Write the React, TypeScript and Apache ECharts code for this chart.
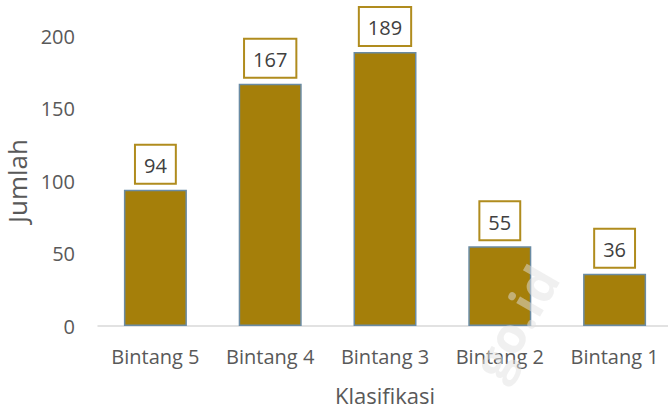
import React, { useEffect, useRef } from "react";
import * as echarts from "echarts";

const categories = ["Bintang 5", "Bintang 4", "Bintang 3", "Bintang 2", "Bintang 1"];
const values = [94, 167, 189, 55, 36];
const yTicks = { min: 0, max: 200, interval: 50 };

const FONT = "Open Sans";

export default function App() {
  const ref = useRef<HTMLDivElement>(null);
  useEffect(() => {
    const chart = echarts.init(ref.current!, null, { renderer: "svg" });
    chart.setOption({
      animation: false,
      textStyle: { fontFamily: FONT },
      grid: { left: 98, top: 36, width: 574, bottom: 85, outerBoundsMode: "none", containLabel: false },
      xAxis: {
        type: "category",
        data: categories,
        name: "Klasifikasi",
        nameLocation: "middle",
        nameGap: 58,
        nameTextStyle: { fontSize: 22, color: "#595959", fontFamily: FONT },
        axisLine: { lineStyle: { color: "#D9D9D9", width: 1.5 } },
        axisTick: { show: false },
        axisLabel: { fontSize: 20, color: "#595959", margin: 20, interval: 0, hideOverlap: false, fontFamily: FONT },
      },
      yAxis: {
        type: "value",
        min: yTicks.min,
        max: yTicks.max,
        interval: yTicks.interval,
        name: "Jumlah",
        nameLocation: "middle",
        nameGap: 66,
        nameTextStyle: { fontSize: 26, lineHeight: 26, color: "#595959", fontFamily: FONT },
        axisLine: { show: false },
        axisTick: { show: false },
        splitLine: { show: false },
        axisLabel: { fontSize: 20, color: "#595959", margin: 23, fontFamily: FONT },
      },
      series: [
        {
          type: "bar",
          data: values,
          barWidth: 63,
          itemStyle: { color: "#A57F0A", borderColor: "#6A8BA3", borderWidth: 1.5 },
          label: {
            show: true,
            position: "top",
            distance: 7,
            fontSize: 20,
            lineHeight: 24,
            color: "#404040",
            fontFamily: FONT,
            backgroundColor: "#FFFFFF",
            borderColor: "#B08C1E",
            borderWidth: 2,
            padding: [8, 8, 5, 8],
          },
        },
      ],
      graphic: [
        {
          type: "text",
          x: 515,
          y: 322,
          rotation: Math.PI / 3,
          z: 100,
          style: {
            text: "go.id",
            fontSize: 50,
            fontWeight: "bold",
            fontFamily: FONT,
            fill: "rgba(225,225,225,0.5)",
            align: "center",
            verticalAlign: "middle",
          },
        },
      ],
    });
    return () => chart.dispose();
  }, []);
  return (
    <div
      ref={ref}
      style={{ position: "fixed", left: 0, top: 0, width: 668, height: 411, background: "#fff" }}
    />
  );
}
